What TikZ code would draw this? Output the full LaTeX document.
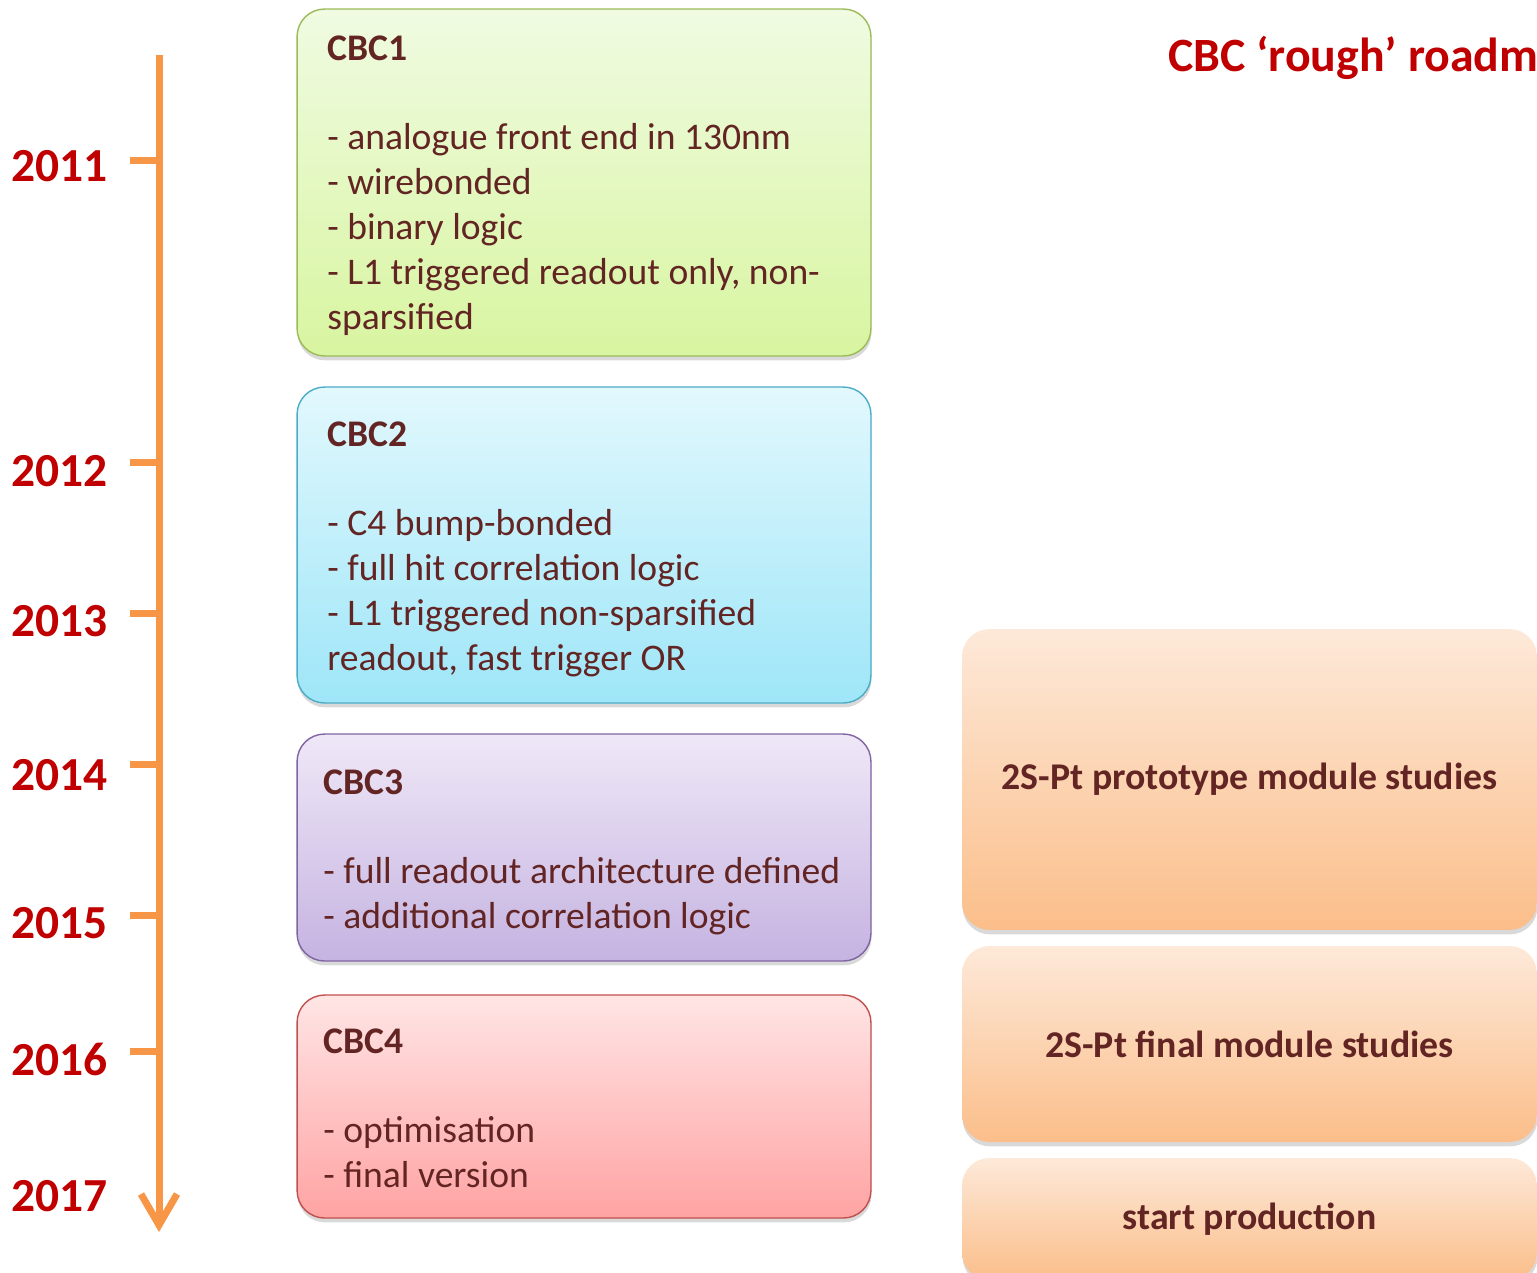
\documentclass[tikz,border=0pt]{standalone}
\usepackage{fontspec}
\setmainfont{Carlito}
\usetikzlibrary{arrows.meta,shadows}

\definecolor{lineorange}{HTML}{F79646}
\definecolor{yearred}{HTML}{C00000}
\definecolor{cbcbrown}{HTML}{632523}

\begin{document}
\begin{tikzpicture}[
        x=0.02cm, y=-0.02cm,
        timeline/.style={line width=0.14cm, lineorange, -{Straight Barb[length=0.62cm, width=0.72cm, line width=0.14cm]}},
        tick/.style={line width=0.14cm, lineorange},
        year/.style={anchor=east, inner sep=0pt, text=yearred, font=\fontsize{27}{30}\selectfont\bfseries},
        cbcbox/.style={rectangle, draw, rounded corners=0.55cm, line width=0.8pt, minimum width=11.48cm,
          drop shadow={shadow xshift=0.3pt, shadow yshift=-2.5pt, opacity=0.3}},
        cbctext/.style={anchor=north west, align=left, inner sep=0pt, text=cbcbrown, font=\fontsize{21.4}{25.6}\selectfont},
        modbox/.style={rectangle, rounded corners=0.55cm, minimum width=11.5cm, top color=modtop, bottom color=modbot,
          text=cbcbrown, font=\fontsize{21.5}{24}\selectfont\bfseries,
          drop shadow={shadow xshift=0.3pt, shadow yshift=-2.5pt, opacity=0.3}}
      ]
      \definecolor{modtop}{HTML}{FDE9D9}
      \definecolor{modbot}{HTML}{FBBE8A}
      \useasboundingbox (0,0) rectangle (1537,1272);

      % Time axis
      \coordinate (tstart) at (159,55);
      \coordinate (tend) at (159,1232);
      \draw[timeline] (tstart) -- (tend);

      % Years and ticks
      \foreach \yr/\ty/\tk in {2011/166/160, 2012/471/462, 2013/621/613, 2014/775/764, 2015/923/915, 2016/1059/1051} {
        \node[year] (y\yr) at (108,\ty) {\yr};
        \coordinate (k\yr) at (130,\tk);
        \draw[tick] (k\yr) -- (159,\tk);
      }
      \node[year] (y2017) at (108,1196) {2017};

      % Title
      \node[anchor=west, inner sep=0pt, text=yearred, font=\fontsize{27.2}{30}\selectfont\bfseries] (title) at (1168,58) {CBC ‘rough’ roadm};

      % CBC chip versions
      \node[cbcbox, draw={rgb,255:red,155;green,187;blue,89}, top color={rgb,255:red,240;green,251;blue,226}, bottom color={rgb,255:red,216;green,245;blue,160},
        minimum height=6.94cm] (cbc1) at (584,182.5) {};
      \node[cbctext] (cbc1txt) at (327,35) {\textbf{CBC1}\\ \\- analogue front end in 130nm\\- wirebonded\\- binary logic\\- L1 triggered readout only, non-\\sparsified};

      \node[cbcbox, draw={rgb,255:red,75;green,172;blue,198}, top color={rgb,255:red,226;green,248;blue,253}, bottom color={rgb,255:red,158;green,230;blue,248},
        minimum height=6.32cm] (cbc2) at (584,545) {};
      \node[cbctext] (cbc2txt) at (327,421) {\textbf{CBC2}\\ \\- C4 bump-bonded\\- full hit correlation logic\\- L1 triggered non-sparsified\\readout, fast trigger OR};

      \node[cbcbox, draw={rgb,255:red,128;green,100;blue,162}, top color={rgb,255:red,239;green,232;blue,247}, bottom color={rgb,255:red,197;green,179;blue,225},
        minimum height=4.54cm] (cbc3) at (584,847.5) {};
      \node[cbctext] (cbc3txt) at (323,769) {\textbf{CBC3}\\ \\- full readout architecture defined\\- additional correlation logic};

      \node[cbcbox, draw={rgb,255:red,192;green,80;blue,77}, top color={rgb,255:red,255;green,229;blue,229}, bottom color={rgb,255:red,255;green,163;blue,163},
        minimum height=4.46cm] (cbc4) at (584,1106.5) {};
      \node[cbctext] (cbc4txt) at (323,1028) {\textbf{CBC4}\\ \\- optimisation\\- final version};

      % Module studies
      \node[modbox, minimum height=6.02cm] (proto) at (1249.5,779.5) {2S-Pt prototype module studies};
      \node[modbox, minimum height=3.92cm] (final) at (1249.5,1044) {2S-Pt final module studies};
      \node[modbox, minimum height=2.44cm] (prod) at (1249.5,1219) {start production};
    \end{tikzpicture}
\end{document}
